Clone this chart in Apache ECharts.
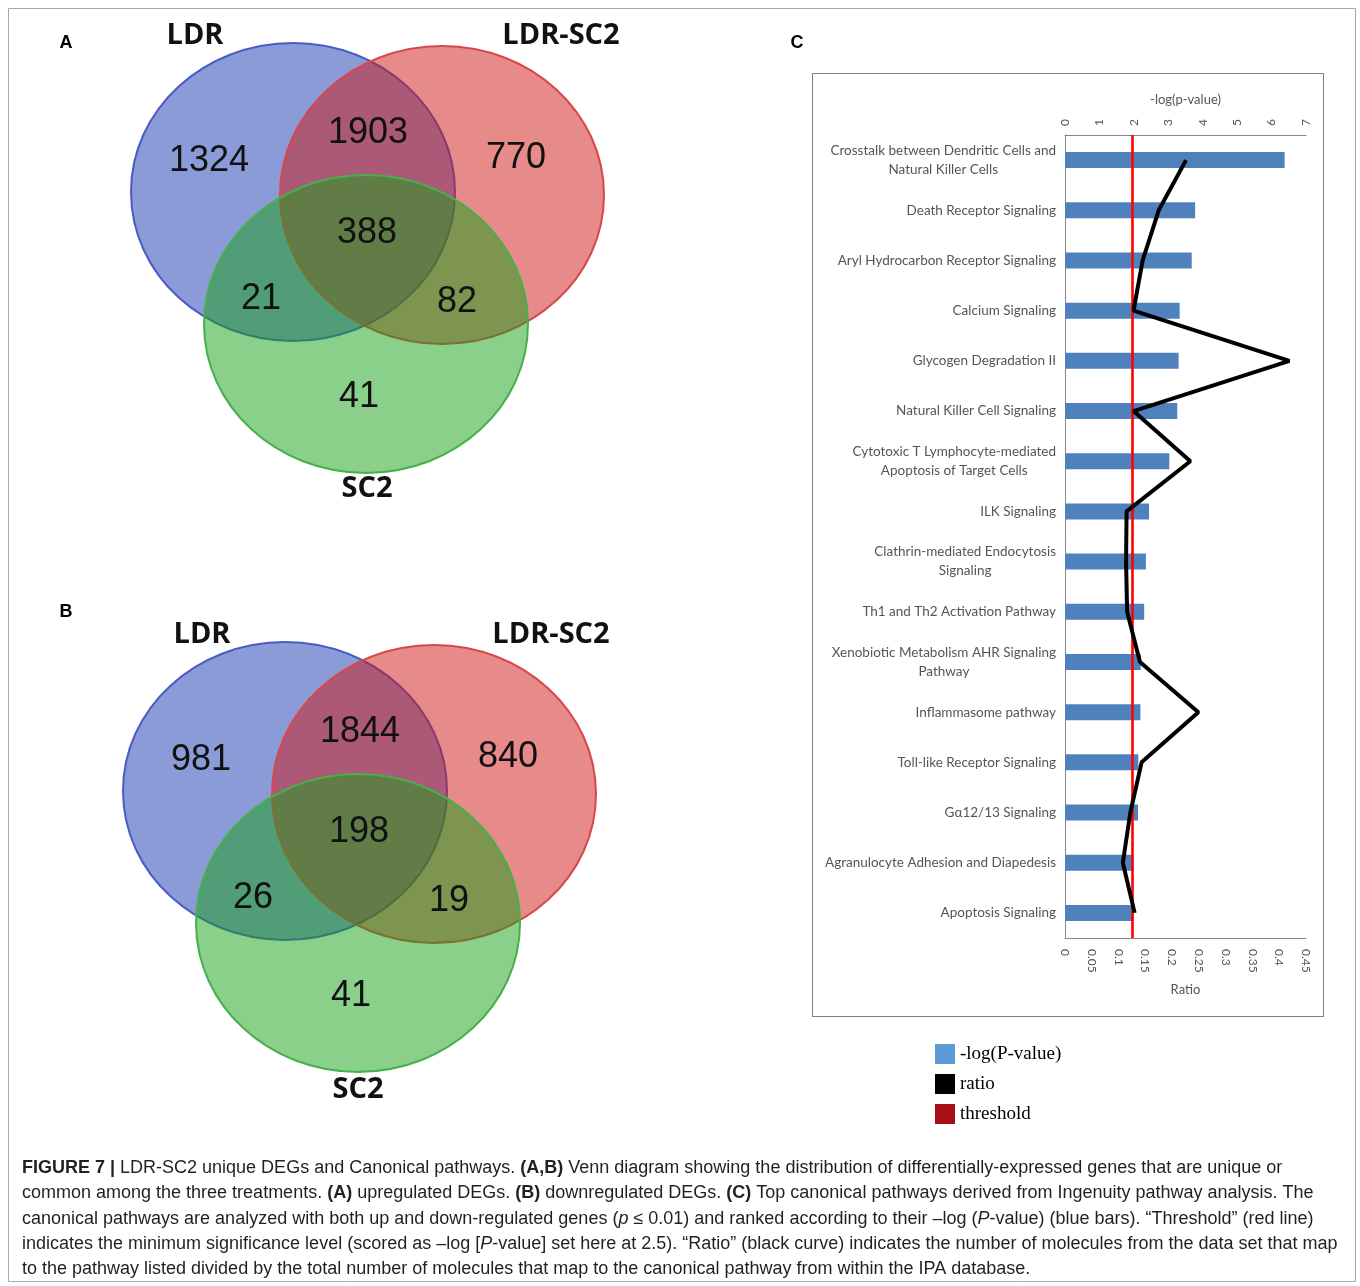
<!DOCTYPE html>
<html>
<head>
<meta charset="utf-8">
<script src="https://cdn.jsdelivr.net/npm/echarts@6/dist/echarts.min.js"></script>
<style>
  html, body { margin: 0; padding: 0; background: #fff; }
  #main { width: 1360px; height: 1286px; }
</style>
</head>
<body>
<div id="main"></div>
<script>
// panel C: canonical pathways
const pathways = [
  'Crosstalk between Dendritic Cells and\nNatural Killer Cells',
  'Death Receptor Signaling',
  'Aryl Hydrocarbon Receptor Signaling',
  'Calcium Signaling',
  'Glycogen Degradation II',
  'Natural Killer Cell Signaling',
  'Cytotoxic T Lymphocyte-mediated\nApoptosis of Target Cells',
  'ILK Signaling',
  'Clathrin-mediated Endocytosis\nSignaling',
  'Th1 and Th2 Activation Pathway',
  'Xenobiotic Metabolism AHR Signaling\nPathway',
  'Inflammasome pathway',
  'Toll-like Receptor Signaling',
  'G\u03b112/13 Signaling',
  'Agranulocyte Adhesion and Diapedesis',
  'Apoptosis Signaling'
];
const negLogP = [6.38, 3.78, 3.68, 3.33, 3.30, 3.26, 3.03, 2.44, 2.35, 2.30, 2.20, 2.19, 2.13, 2.12, 1.99, 1.99];
const ratio = [0.226, 0.175, 0.145, 0.128, 0.419, 0.128, 0.234, 0.115, 0.114, 0.116, 0.140, 0.249, 0.143, 0.122, 0.108, 0.130];
const threshold = 1.95;

// panels A, B: venn counts
// order: LDR only, LDR&LDR-SC2, LDR-SC2 only, all three, LDR&SC2, LDR-SC2&SC2, SC2 only
const vennSets = ['LDR', 'LDR-SC2', 'SC2'];
const upCounts = [1324, 1903, 770, 388, 21, 82, 41];
const downCounts = [981, 1844, 840, 198, 26, 19, 41];

const chart = echarts.init(document.getElementById('main'));

// venn geometry, relative to LDR circle centre
const vennCircles = [[0, 0], [149, 3], [73, 132]];
const vennFill = ['rgba(21,55,177,0.5)', 'rgba(205,21,21,0.5)', 'rgba(21,159,21,0.5)'];
const vennStroke = ['#4a5cc4', '#d9474a', '#46b04a'];
const vennCountPos = [[-84, -31], [75, -59], [223, -34], [74, 41], [-32, 107], [164, 110], [66, 205]];

function venn(ox, oy, counts, setPos) {
  const els = [];
  vennCircles.forEach((c, i) => {
    els.push({
      type: 'ellipse',
      shape: { cx: ox + c[0], cy: oy + c[1], rx: 162, ry: 149 },
      style: { fill: vennFill[i], stroke: vennStroke[i], lineWidth: 2 }
    });
  });
  counts.forEach((n, i) => {
    els.push({
      type: 'text',
      x: ox + vennCountPos[i][0], y: oy + vennCountPos[i][1],
      style: {
        text: String(n), fill: '#111', align: 'center', verticalAlign: 'middle',
        font: '36px "Liberation Sans", Arial, sans-serif'
      }
    });
  });
  vennSets.forEach((s, i) => {
    els.push({
      type: 'text',
      x: setPos[i][0], y: setPos[i][1],
      style: {
        text: s, fill: '#111', align: 'center', verticalAlign: 'middle',
        font: 'bold 29px "Open Sans", sans-serif'
      }
    });
  });
  return els;
}

function letter(t, x, y) {
  return {
    type: 'text', x: x, y: y,
    style: { text: t, fill: '#000', align: 'center', verticalAlign: 'middle',
      font: 'bold 18px "Liberation Sans", Arial, sans-serif' }
  };
}

// caption lines, rich tokens
const capRich = {
  n: { fontFamily: 'Liberation Sans', fontSize: 18, fill: '#231f20' },
  b: { fontFamily: 'Liberation Sans', fontSize: 18, fontWeight: 'bold', fill: '#231f20' },
  i: { fontFamily: 'Liberation Sans', fontSize: 18, fontStyle: 'italic', fill: '#231f20' }
};
const captionLines = [
  '{b|FIGURE 7 |}{n| LDR-SC2 unique DEGs and Canonical pathways. }{b|(A,B)}{n| Venn diagram showing the distribution of differentially-expressed genes that are unique or}',
  '{n|common among the three treatments. }{b|(A)}{n| upregulated DEGs. }{b|(B)}{n| downregulated DEGs. }{b|(C)}{n| Top canonical pathways derived from Ingenuity pathway analysis. The}',
  '{n|canonical pathways are analyzed with both up and down-regulated genes (}{i|p}{n| \u2264 0.01) and ranked according to their \u2013log (}{i|P}{n|-value) (blue bars). \u201cThreshold\u201d (red line)}',
  '{n|indicates the minimum significance level (scored as \u2013log [}{i|P}{n|-value] set here at 2.5). \u201cRatio\u201d (black curve) indicates the number of molecules from the data set that map}',
  '{n|to the pathway listed divided by the total number of molecules that map to the canonical pathway from within the IPA database.}'
];

const graphics = [
  { type: 'rect', shape: { x: 8.5, y: 8.5, width: 1347, height: 1273 },
    style: { fill: 'none', stroke: '#a8a8a8', lineWidth: 1 }, z: -10 },
  { type: 'rect', shape: { x: 812.5, y: 73.5, width: 511, height: 943 },
    style: { fill: 'none', stroke: '#808080', lineWidth: 1 } },
  letter('A', 66, 43), letter('B', 66, 612), letter('C', 797, 43)
]
  .concat(venn(293, 192, upCounts, [[195, 36], [561, 36], [367, 489]]))
  .concat(venn(285, 791, downCounts, [[202, 635], [551, 635], [358, 1090]]));

captionLines.forEach((l, k) => {
  graphics.push({
    type: 'text', x: 22, y: 1168 + k * 25.3,
    style: { text: l, rich: capRich, verticalAlign: 'middle', align: 'left' }
  });
});

const axisGrey = '#868686';
const labelGrey = '#555555';

const option = {
  animation: false,
  backgroundColor: '#fff',
  grid: { left: 1065, top: 135, width: 241, height: 803, outerBoundsMode: 'none' },
  legend: {
    orient: 'vertical', left: 930, top: 1039,
    icon: 'rect', itemWidth: 20, itemHeight: 20, itemGap: 10,
    textStyle: { fontFamily: 'Liberation Serif', fontSize: 19, color: '#000' },
    data: [
      { name: '-log(P-value)', itemStyle: { color: '#5b9bd5' } },
      { name: 'ratio', itemStyle: { color: '#000' } },
      { name: 'threshold', itemStyle: { color: '#a50f15' } }
    ]
  },
  xAxis: [
    {
      type: 'value', position: 'top', min: 0, max: 7, interval: 1,
      name: '-log(p-value)', nameLocation: 'middle', nameGap: 29,
      nameTextStyle: { color: labelGrey, fontSize: 13, fontFamily: 'Lato' },
      axisLine: { show: true, lineStyle: { color: axisGrey } },
      axisTick: { show: false }, splitLine: { show: false },
      axisLabel: { rotate: -90, color: labelGrey, fontSize: 12, fontFamily: 'Lato', margin: 9 }
    },
    {
      type: 'value', position: 'bottom', min: 0, max: 0.45, interval: 0.05,
      name: 'Ratio', nameLocation: 'middle', nameGap: 45,
      nameTextStyle: { color: labelGrey, fontSize: 13, fontFamily: 'Lato' },
      axisLine: { show: true, lineStyle: { color: axisGrey } },
      axisTick: { show: false }, splitLine: { show: false },
      axisLabel: { rotate: -90, color: labelGrey, fontSize: 12, fontFamily: 'Lato', margin: 11 }
    }
  ],
  yAxis: {
    type: 'category', inverse: true, data: pathways,
    axisLine: { show: true, lineStyle: { color: axisGrey } },
    axisTick: { show: false },
    axisLabel: {
      margin: 9,
      formatter: v => v.split('\n').map(s => '{c|' + s + '}').join('\n'),
      rich: { c: { align: 'center', color: labelGrey, fontSize: 13.5, fontFamily: 'Lato', lineHeight: 19 } }
    }
  },
  series: [
    {
      name: '-log(P-value)', type: 'bar', xAxisIndex: 0, data: negLogP,
      barWidth: 16, itemStyle: { color: '#4f81bd' },
      markLine: {
        silent: true, symbol: 'none', label: { show: false },
        lineStyle: { color: '#ff0000', width: 2.6, type: 'solid' },
        data: [{ xAxis: threshold }]
      }
    },
    {
      name: 'ratio', type: 'line', xAxisIndex: 1, data: ratio,
      symbol: 'none', z: 5,
      lineStyle: { color: '#000', width: 4 }, itemStyle: { color: '#000' }
    },
    { name: 'threshold', type: 'line', xAxisIndex: 0, data: [], itemStyle: { color: '#ff0000' } }
  ],
  graphic: graphics
};

chart.setOption(option);
</script>
</body>
</html>
